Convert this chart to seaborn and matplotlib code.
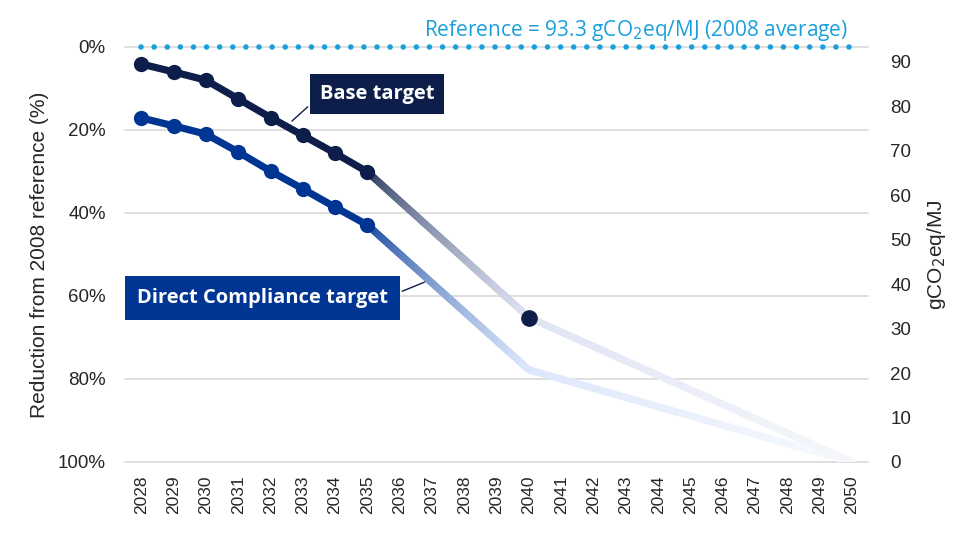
import numpy as np
import pandas as pd
import matplotlib
matplotlib.use("Agg")
import matplotlib.pyplot as plt
import seaborn as sns
from matplotlib.collections import LineCollection
from matplotlib.colors import to_rgb

# values (reduction from 2008 reference, %)
years = list(range(2028, 2051))
base_years = [2028, 2029, 2030, 2031, 2032, 2033, 2034, 2035]
base_red = [4.1, 6.0, 8.0, 12.5, 17.0, 21.3, 25.6, 30.1]
direct_red = [17.1, 19.0, 21.0, 25.3, 29.9, 34.2, 38.6, 42.9]
base_tail_years = [2035, 2040, 2050]
base_tail = [30.1, 65.2, 100.0]
direct_tail_years = [2035, 2040, 2050]
direct_tail = [42.9, 77.8, 100.0]
ref_value = 93.3
right_ticks = [0, 10, 20, 30, 40, 50, 60, 70, 80, 90]
left_ticks = [0, 20, 40, 60, 80, 100]

NAVY = "#0E1E4A"
BLUE = "#003594"
REF = "#19A0DC"

sns.set_style("white")
plt.rcParams["font.family"] = ["Liberation Sans", "DejaVu Sans"]

fig = plt.figure(figsize=(9.7, 5.37), dpi=100)
ax = fig.add_axes([0.129, 0.1397, 0.766, 0.7728])

pos = {y: i for i, y in enumerate(years)}

# grid
for t in left_ticks:
    ax.axhline(t, color="#D9D9D9", lw=1.2, zorder=0, clip_on=False)

# reference dotted line
ax.plot([pos[2028], pos[2050]], [0, 0], color=REF, lw=4, ls=(0, (0.01, 2.35)),
        dash_capstyle="round", zorder=2, clip_on=False)


def fade_line(xs, ys, stops, lw, gamma):
    # draw the segments with a colour that changes along the way
    xp = [pos[x] for x in xs]
    segs, cols = [], []
    for k in range(len(xp) - 1):
        c0, c1 = np.array(to_rgb(stops[k])), np.array(to_rgb(stops[k + 1]))
        t = np.linspace(0, 1, 80)
        px = xp[k] + (xp[k + 1] - xp[k]) * t
        py = ys[k] + (ys[k + 1] - ys[k]) * t
        for j in range(len(t) - 1):
            segs.append([(px[j], py[j]), (px[j + 1], py[j + 1])])
            f = ((t[j] + t[j + 1]) / 2) ** gamma[k]
            cols.append(c0 + (c1 - c0) * f)
    lc = LineCollection(segs, colors=cols, linewidths=lw, capstyle="round", zorder=1)
    ax.add_collection(lc)


fade_line(direct_tail_years, direct_tail, [BLUE, "#DCE7FB", "#F8FAFE"], 5.2, [0.6, 1.0])
fade_line(base_tail_years, base_tail, [NAVY, "#DFE4F3", "#F6F7FC"], 5.2, [0.55, 1.0])

df = pd.DataFrame({"x": [pos[y] for y in base_years] * 2,
                   "y": base_red + direct_red,
                   "s": ["Base"] * len(base_years) + ["Direct"] * len(base_years)})
sns.lineplot(data=df, x="x", y="y", hue="s", palette={"Base": NAVY, "Direct": BLUE},
             marker="o", markersize=11, markeredgewidth=0, lw=5.2, legend=False, ax=ax,
             zorder=3)
ax.plot(pos[2040], base_tail[1], "o", color=NAVY, markersize=11, zorder=4)

ax.set_xlim(-0.5, len(years) - 0.5)
ax.set_ylim(100, 0)
ax.set_xticks(range(len(years)))
ax.set_xticklabels([str(y) for y in years], rotation=90, fontsize=12.5)
ax.set_yticks(left_ticks)
ax.set_yticklabels([f"{t}%" for t in left_ticks], fontsize=13.5)
ax.tick_params(axis="y", length=0, pad=14)
ax.tick_params(axis="x", length=0, pad=10)
ax.set_xlabel("")
ax.set_ylabel("Reduction from 2008 reference (%)", fontsize=15, labelpad=6)
for s in ax.spines.values():
    s.set_visible(False)

ax2 = ax.twinx()
ax2.set_ylim(0, ref_value)
ax2.set_yticks(right_ticks)
ax2.set_yticklabels([str(t) for t in right_ticks], fontsize=13.5)
ax2.tick_params(axis="y", length=0, pad=16)
ax2.set_ylabel("gCO$_2$eq/MJ", fontsize=15, labelpad=10)
for s in ax2.spines.values():
    s.set_visible(False)

# reference label
ax.text(pos[2043] + 0.3, -2.7, "Reference = 93.3 gCO$_2$eq/MJ (2008 average)",
        color=REF, fontsize=15, ha="center", va="baseline", family=["Open Sans", "DejaVu Sans"])

# series labels
ax.annotate("Base target", xy=(pos[2032] + 0.6, 18.3), xytext=(pos[2035] + 0.3, 11.3),
            ha="center", va="center", color="white", fontsize=14.5, fontweight="bold",
            family=["Open Sans", "DejaVu Sans"],
            bbox=dict(boxstyle="square,pad=0.5", fc=NAVY, ec="none"),
            arrowprops=dict(arrowstyle="-", color=NAVY, lw=1, relpos=(0, 0.4)))
ax.annotate("Direct Compliance target", xy=(pos[2036] + 0.85, 56.4),
            xytext=(pos[2031] + 0.75, 60.5),
            ha="center", va="center", color="white", fontsize=14.5, fontweight="bold",
            family=["Open Sans", "DejaVu Sans"],
            bbox=dict(boxstyle="square,pad=0.58", fc=BLUE, ec="none"),
            arrowprops=dict(arrowstyle="-", color=NAVY, lw=1, relpos=(1, 0.55)))

fig.savefig("out.png", dpi=100)
